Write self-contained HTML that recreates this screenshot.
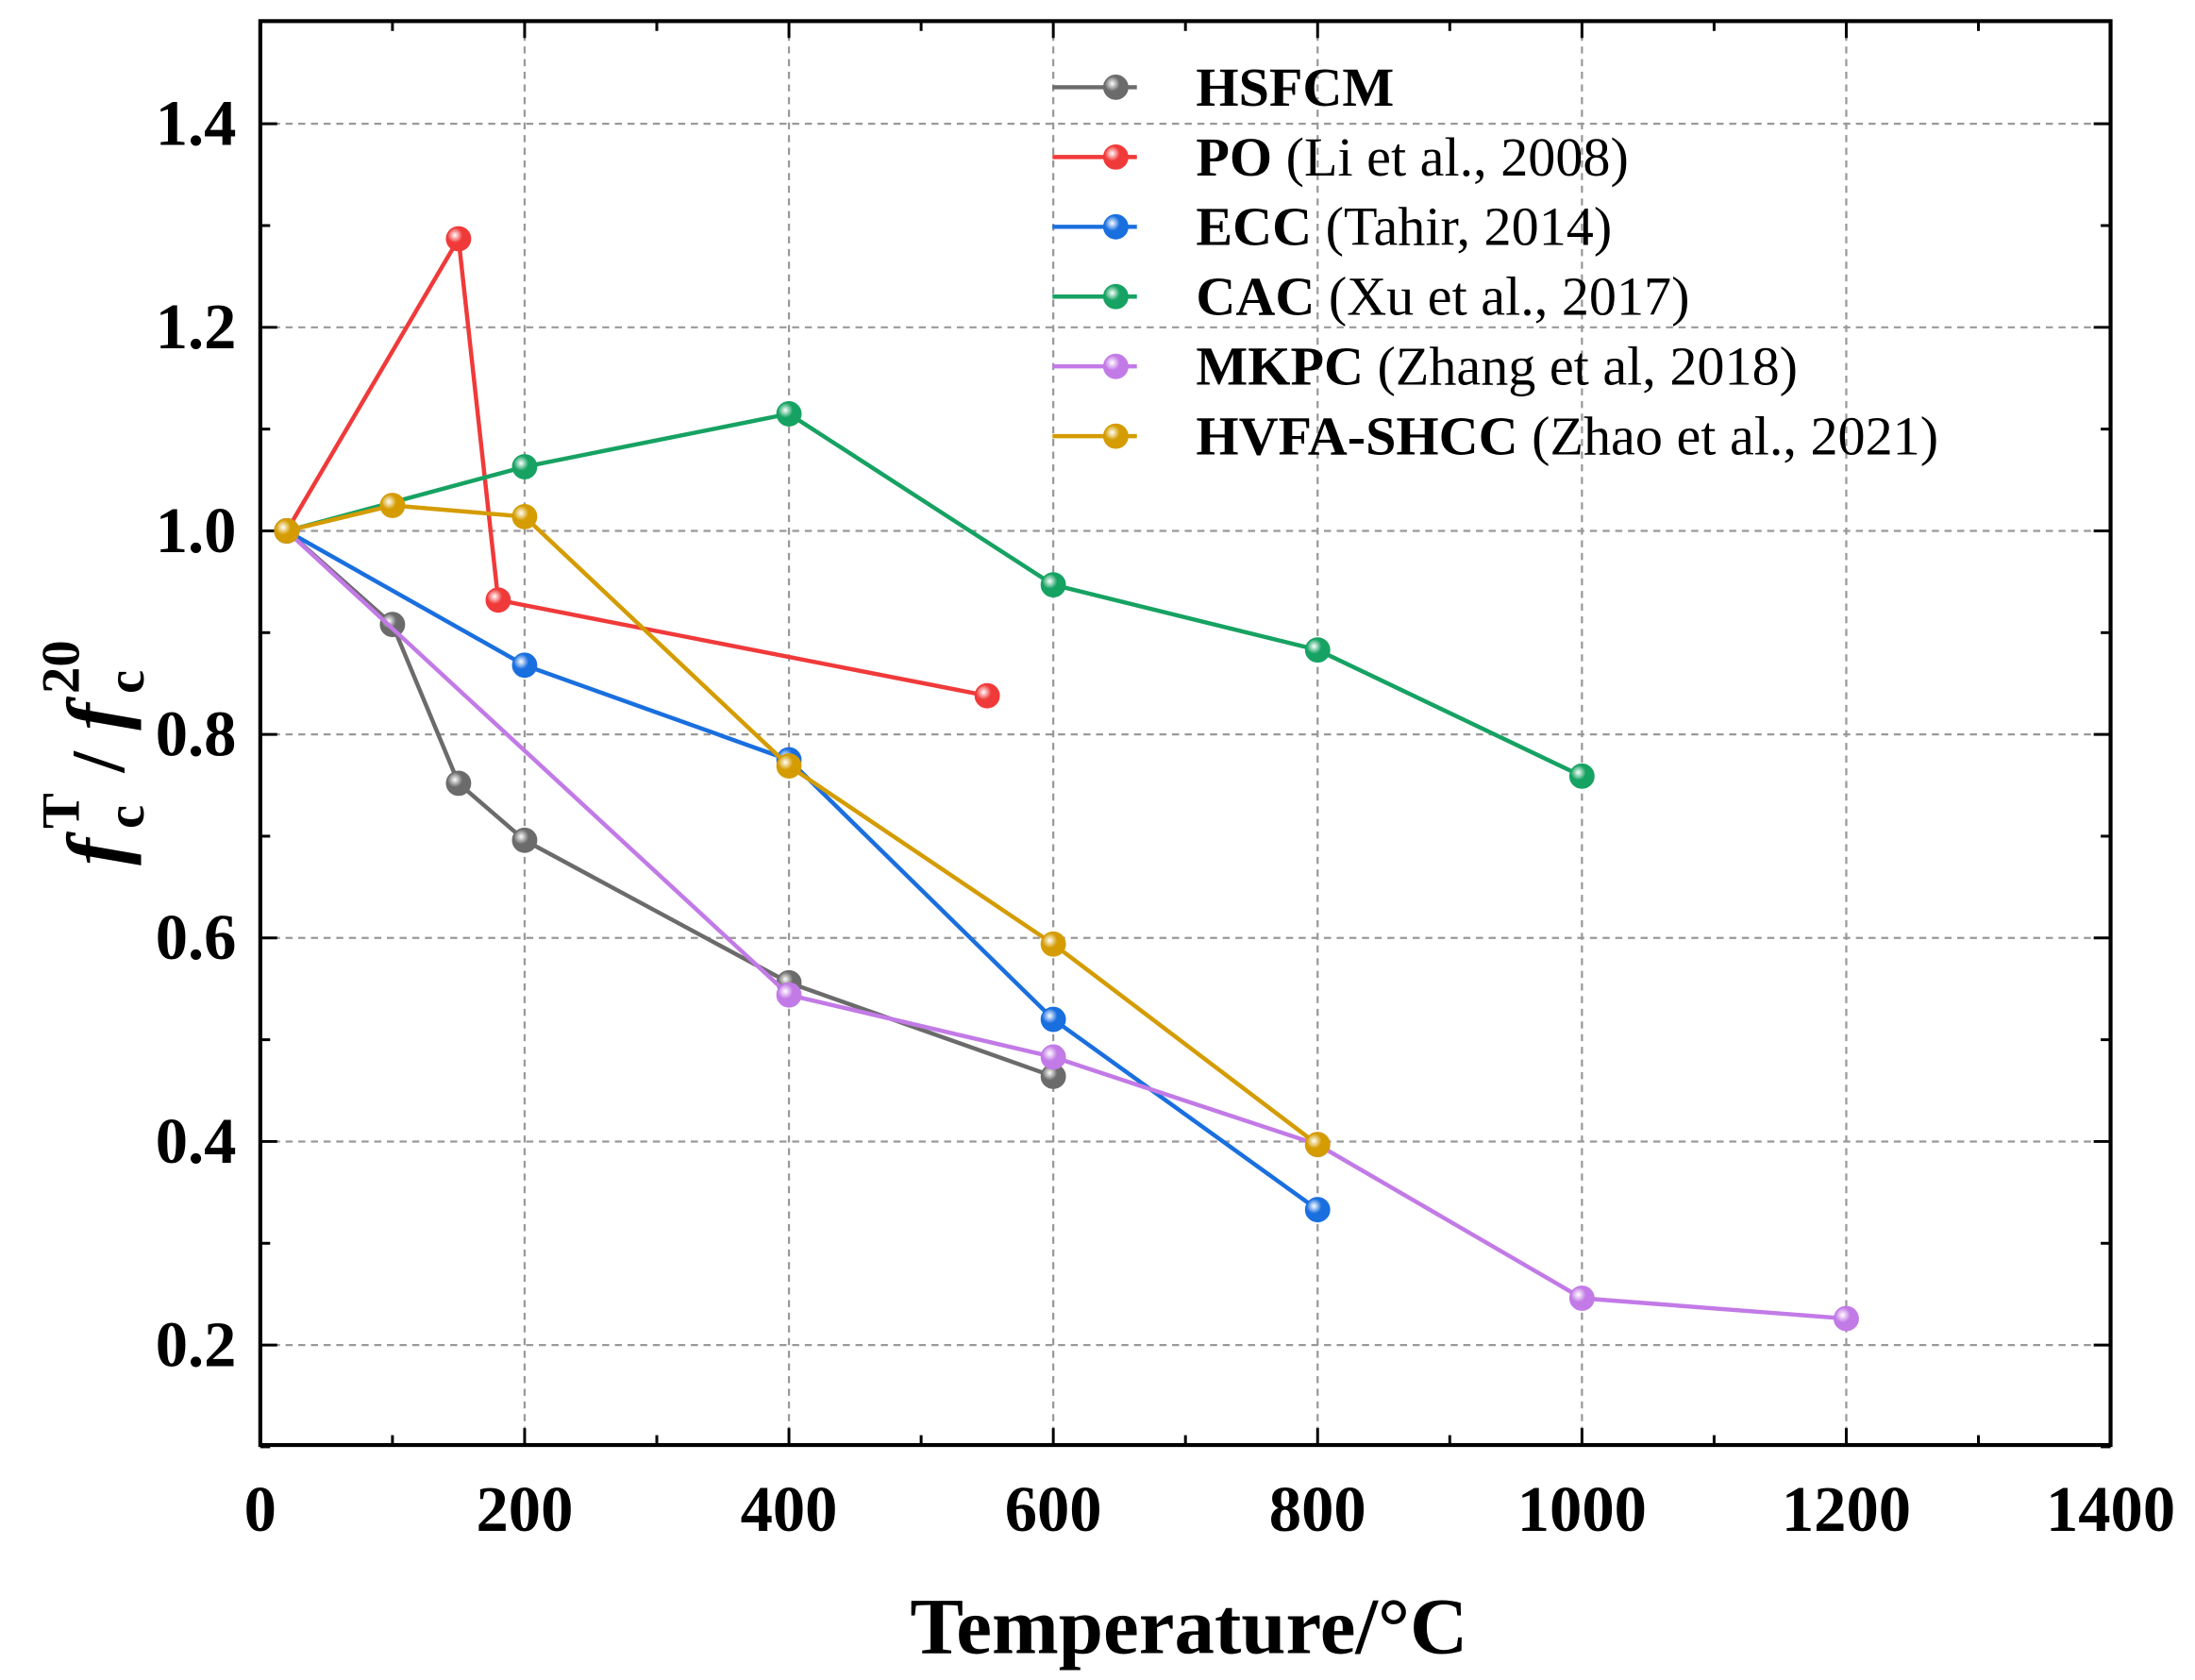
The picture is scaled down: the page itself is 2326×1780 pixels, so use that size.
<!DOCTYPE html>
<html><head><meta charset="utf-8"><style>
html,body{margin:0;padding:0;background:#fff;}
svg{display:block;}
text{font-family:"Liberation Serif",serif;}
</style></head><body>
<svg id="s" width="2326" height="1780" viewBox="0 0 1560 1194" preserveAspectRatio="none" xmlns="http://www.w3.org/2000/svg">
<defs></defs>
<rect width="1560" height="1194" fill="#fff"/>
<g id="g"></g>
</svg>
<script>
const NS="http://www.w3.org/2000/svg";
const g=document.getElementById('g'),defs=document.querySelector('defs');
function el(t,a,p){const e=document.createElementNS(NS,t);for(const k in a)e.setAttribute(k,a[k]);(p||g).appendChild(e);return e;}
function tx(txt,a,p){const e=el('text',a,p);e.textContent=txt;return e;}
const X=v=>185+v*0.9393, Y=v=>377.3-(v-1)*723.3;
const L=185,R=1500,T=15,B=1027;
for(let v=200;v<=1200;v+=200)el('line',{x1:X(v),x2:X(v),y1:T,y2:B,stroke:'#999','stroke-width':1.5,'stroke-dasharray':'5,4'});
for(let v=0.2;v<1.45;v+=0.2)el('line',{x1:L,x2:R,y1:Y(v),y2:Y(v),stroke:'#999','stroke-width':1.5,'stroke-dasharray':'5,4'});
for(let v=0;v<=1400;v+=100){const big=v%200==0,len=big?12:7;
 el('line',{x1:X(v),x2:X(v),y1:B,y2:B-len,stroke:'#000','stroke-width':2});
 el('line',{x1:X(v),x2:X(v),y1:T,y2:T+len,stroke:'#000','stroke-width':2});
 if(big)tx(v,{x:X(v),y:1088,'text-anchor':'middle','font-size':46,'font-weight':'bold'});}
for(let i=1;i<=14;i++){const v=i/10,big=i%2==0,len=big?12:7;
 el('line',{x1:L,x2:L+len,y1:Y(v),y2:Y(v),stroke:'#000','stroke-width':2});
 el('line',{x1:R,x2:R-len,y1:Y(v),y2:Y(v),stroke:'#000','stroke-width':2});
 if(big)tx(v.toFixed(1),{x:168,y:Y(v)+15,'text-anchor':'end','font-size':46,'font-weight':'bold'});}
el('rect',{x:L,y:T,width:R-L,height:B-T,fill:'none',stroke:'#000','stroke-width':2.8});
const S=[
['#6b6b6b','HSFCM','',[[20,1],[100,.908],[150,.752],[200,.696],[400,.556],[600,.464]]],
['#f03a3a','PO',' (Li et al., 2008)',[[20,1],[150,1.287],[180,.932],[550,.838]]],
['#1a6fdf','ECC',' (Tahir, 2014)',[[20,1],[200,.868],[400,.775],[600,.52],[800,.333]]],
['#16a262','CAC',' (Xu et al., 2017)',[[20,1],[200,1.063],[400,1.115],[600,.947],[800,.883],[1000,.759]]],
['#c27ae6','MKPC',' (Zhang et al, 2018)',[[20,1],[400,.544],[600,.483],[800,.397],[1000,.246],[1200,.226]]],
['#d49c00','HVFA-SHCC',' (Zhao et al., 2021)',[[20,1],[100,1.025],[200,1.014],[400,.769],[600,.594],[800,.397]]]];
S.forEach((s,i)=>{
 const gr=el('radialGradient',{id:'r'+i,cx:'35%',cy:'35%',r:'70%'},defs);
 el('stop',{offset:'0%','stop-color':'#fff'},gr);el('stop',{offset:'45%','stop-color':s[0]},gr);el('stop',{offset:'100%','stop-color':s[0]},gr);
 el('polyline',{points:s[3].map(p=>X(p[0])+','+Y(p[1])).join(' '),fill:'none',stroke:s[0],'stroke-width':3});
 s[3].forEach(p=>el('circle',{cx:X(p[0]),cy:Y(p[1]),r:8.5,fill:'url(#r'+i+')',stroke:s[0],'stroke-width':1}));
 const ly=62+i*49.6;
 el('line',{x1:748,x2:808,y1:ly,y2:ly,stroke:s[0],'stroke-width':3});
 el('circle',{cx:793,cy:ly,r:8.5,fill:'url(#r'+i+')',stroke:s[0],'stroke-width':1});
 const t=el('text',{x:850,y:ly+13,'font-size':39});
 const b=el('tspan',{'font-weight':'bold'},t);b.textContent=s[1];
 const n=el('tspan',{},t);n.textContent=s[2];
});
tx('Temperature/°C',{x:845,y:1175,'text-anchor':'middle','font-size':57,'font-weight':'bold'});
const yg=el('g',{transform:'translate(88,527) rotate(-90)','font-weight':'bold'});
tx('f',{x:-88,y:0,'font-size':58,'font-style':'italic'},yg);
tx('c',{x:-62,y:14,'font-size':38},yg);
tx('T',{x:-62,y:-32,'font-size':38},yg);
tx('/',{x:-22,y:0,'font-size':54},yg);
tx('f',{x:8,y:0,'font-size':58,'font-style':'italic'},yg);
tx('c',{x:34,y:14,'font-size':38},yg);
tx('20',{x:34,y:-32,'font-size':38},yg);
</script>
</body></html>
